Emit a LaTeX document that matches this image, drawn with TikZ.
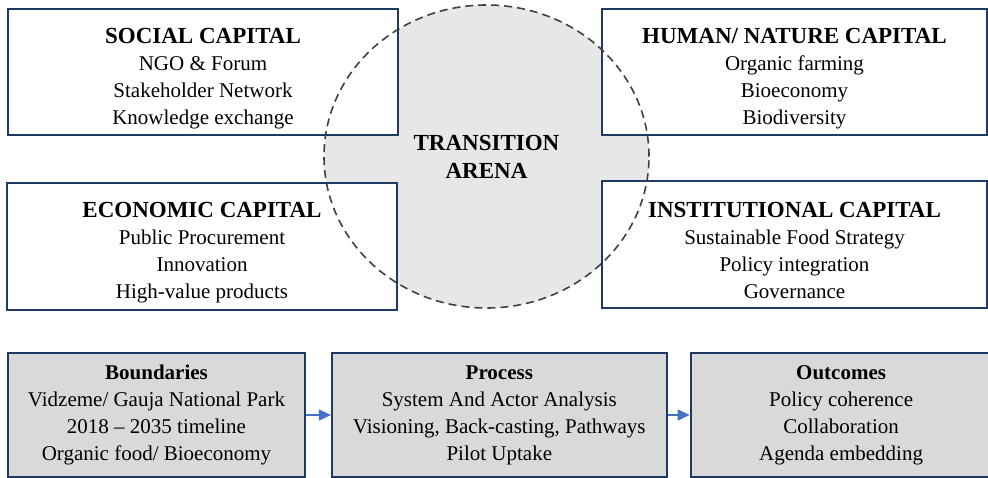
\documentclass[tikz,border=0pt]{standalone}
\usepackage{fontspec}
\setmainfont{Liberation Serif}
\usetikzlibrary{shapes.geometric}
\usetikzlibrary{positioning}
\usetikzlibrary{arrows.meta}
\definecolor{navy}{RGB}{31,56,100}
\definecolor{stagegrey}{RGB}{217,217,217}
\definecolor{arenagrey}{RGB}{231,231,231}
\definecolor{dashgrey}{RGB}{64,64,64}
\definecolor{flowblue}{RGB}{68,114,196}
\newcommand{\head}[1]{{\fontsize{23}{27}\selectfont\bfseries\rule{0pt}{28pt}#1}}
\tikzset{capital/.style={rectangle,draw=navy,fill=white,line width=1.8pt,inner sep=0pt,
align=center,font=\fontsize{21}{27}\selectfont},
stage/.style={capital,fill=stagegrey,minimum height=124pt},
arena/.style={ellipse,fill=arenagrey,minimum width=325pt,minimum height=303pt,inner sep=0pt,
align=center,font=\fontsize{23}{28}\selectfont\bfseries},
arenaline/.style={draw=dashgrey,line width=1.6pt,dash pattern=on 8pt off 5pt},
flow/.style={draw=flowblue,line width=1.6pt,-{Triangle[length=12pt,width=11pt]}}}
\begin{document}
\begin{tikzpicture}[x=1pt,y=-1pt]
  \useasboundingbox (0,0) rectangle (988,478);
  \node (arena) [arena] at (486.5,156.5) {TRANSITION\\ARENA};
  \node (social) [capital,minimum width=390pt,minimum height=126pt] at (203,72)
    {\head{SOCIAL CAPITAL}\\NGO \& Forum\\Stakeholder Network\\Knowledge exchange};
  \node (human) [capital,minimum width=385pt,minimum height=126pt] at (794.5,72)
    {\head{HUMAN/ NATURE CAPITAL}\\Organic farming\\Bioeconomy\\Biodiversity};
  \node (economic) [capital,minimum width=390pt,minimum height=127pt] at (202,246.5)
    {\head{ECONOMIC CAPITAL}\\Public Procurement\\Innovation\\High-value products};
  \node (institutional) [capital,minimum width=385pt,minimum height=127pt] at (794.5,244.5)
    {\head{INSTITUTIONAL CAPITAL}\\Sustainable Food Strategy\\Policy integration\\Governance};
  \draw [arenaline] (arena.center) ellipse [x radius=162.5pt, y radius=151.5pt];
  % bottom row
  \node (boundaries) [stage,minimum width=297pt] at (156.5,415)
    {\textbf{Boundaries}\\Vidzeme/ Gauja National Park\\2018 -- 2035 timeline\\Organic food/ Bioeconomy};
  \node (process) [stage,minimum width=335pt,right=25pt of boundaries]
    {\textbf{Process}\\System And Actor Analysis\\Visioning, Back-casting, Pathways\\Pilot Uptake};
  \node (outcomes) [stage,minimum width=301pt,right=22pt of process]
    {\textbf{Outcomes}\\Policy coherence\\Collaboration\\Agenda embedding};
  \draw [flow] (boundaries) -- (process);
  \draw [flow] (process) -- (outcomes);
\end{tikzpicture}
\end{document}
